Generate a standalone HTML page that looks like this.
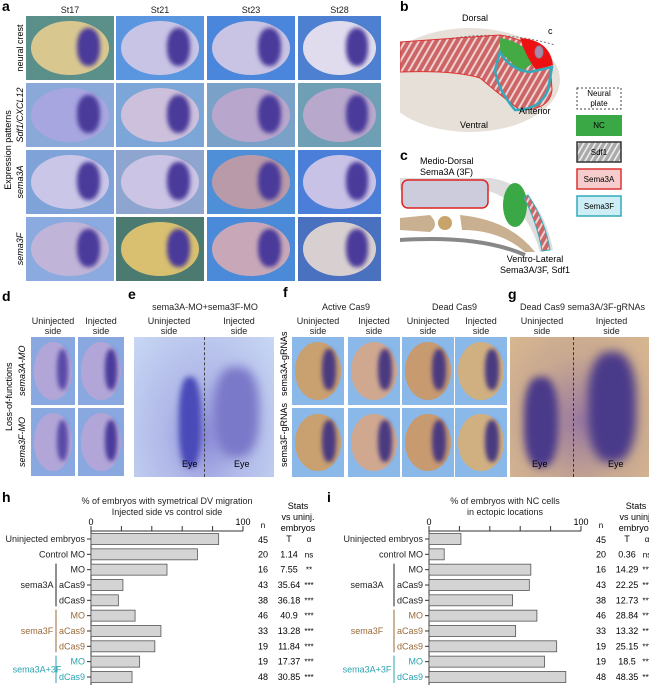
<!DOCTYPE html>
<html><head><meta charset="utf-8">
<style>
body{margin:0;background:#fff;font-family:"Liberation Sans",sans-serif;}
#root{position:relative;width:649px;height:685px;overflow:hidden;background:#fff;}
.abs{position:absolute;}
.tile{position:absolute;overflow:hidden;}
.lbl{position:absolute;font-size:9px;color:#222;text-align:center;line-height:10px;}
.pl{position:absolute;font-weight:bold;font-size:14px;color:#000;}
.vt{position:absolute;font-size:9px;transform:rotate(-90deg);transform-origin:center;white-space:nowrap;text-align:center;}
</style></head><body>
<div id="root">

<div class="pl" style="left:2px;top:-2px">a</div>
<div class="lbl" style="left:26px;top:5px;width:88px">St17</div>
<div class="lbl" style="left:116px;top:5px;width:88px">St21</div>
<div class="lbl" style="left:207px;top:5px;width:88px">St23</div>
<div class="lbl" style="left:298px;top:5px;width:83px">St28</div>
<div class="vt" style="left:-50px;top:145px;width:116px">Expression patterns</div>
<div class="vt" style="left:-12px;top:43px;width:64px">neural crest</div>
<div class="vt" style="left:-12px;top:110px;width:64px;font-style:italic">Sdf1/CXCL12</div>
<div class="vt" style="left:-12px;top:177px;width:64px;font-style:italic">sema3A</div>
<div class="vt" style="left:-12px;top:244px;width:64px;font-style:italic">sema3F</div>
<div id="tilesA"></div>

<svg class="abs" style="left:400px;top:0" width="249" height="280">
<defs><pattern id="hat" width="6" height="6" patternUnits="userSpaceOnUse" patternTransform="rotate(30)"><rect width="6" height="6" fill="#c66"/><rect width="2" height="6" fill="#f0d0d0"/></pattern>
<pattern id="hat2" width="5" height="5" patternUnits="userSpaceOnUse" patternTransform="rotate(30)"><rect width="5" height="5" fill="#aaa"/><rect width="1.6" height="5" fill="#eee"/></pattern></defs>
<text x="0" y="11" font-size="14" font-weight="bold">b</text>
<ellipse cx="70" cy="80" rx="90" ry="52" fill="#e6e0d8"/>
<path d="M-20,60 Q70,20 155,45" fill="none" stroke="#777" stroke-dasharray="2,2"/>
<path d="M0,42 L100,35 Q130,40 150,60 L152,90 Q150,110 120,110 Q100,95 80,78 Q55,70 0,72 Z" fill="url(#hat)" stroke="#d33"/>
<path d="M100,38 Q125,42 135,62 L120,72 Q108,58 100,52 Z" fill="#4a4"/>
<path d="M120,38 Q150,40 153,65 L136,70 Q125,55 120,38Z" fill="#e11"/>
<ellipse cx="139" cy="52" rx="4" ry="6" fill="#a8a" stroke="#889"/>
<path d="M100,52 Q110,70 130,72 L152,67 L148,90 Q140,110 115,110 Q98,90 95,70 Z" fill="none" stroke="#3ab" stroke-width="2.5"/>
<text x="62" y="21" font-size="9">Dorsal</text>
<text x="148" y="34" font-size="9">c</text>
<text x="119" y="114" font-size="9">Anterior</text>
<text x="60" y="128" font-size="9">Ventral</text>
<g>
<rect x="177" y="88" width="44" height="21" fill="#fff" stroke="#444" stroke-dasharray="2,2"/><text x="199" y="96" font-size="8" text-anchor="middle">Neural</text><text x="199" y="106" font-size="8" text-anchor="middle">plate</text>
<rect x="176" y="115" width="46" height="21" fill="#3aa845"/><text x="199" y="128" font-size="8" text-anchor="middle">NC</text>
<rect x="177" y="142" width="44" height="20" fill="url(#hat2)" stroke="#333" stroke-width="1.5"/><text x="199" y="155" font-size="8" text-anchor="middle">Sdf1</text>
<rect x="177" y="169" width="44" height="20" fill="#f6cccc" stroke="#d33" stroke-width="1.5"/><text x="199" y="182" font-size="8" text-anchor="middle">Sema3A</text>
<rect x="177" y="196" width="44" height="20" fill="#cdeef4" stroke="#3ab" stroke-width="1.5"/><text x="199" y="209" font-size="8" text-anchor="middle">Sema3F</text>
</g>
<text x="0" y="160" font-size="14" font-weight="bold">c</text>
<text x="20" y="164" font-size="9">Medio-Dorsal</text>
<text x="20" y="175" font-size="9">Sema3A (3F)</text>
<path d="M0,178 L90,178 Q140,185 153,250 L140,252 Q125,200 85,190 L0,190Z" fill="#ddd"/>
<rect x="2" y="180" width="86" height="28" rx="6" fill="#ccd" stroke="#d22" stroke-width="1.5"/>
<ellipse cx="115" cy="205" rx="12" ry="22" fill="#3aa845"/>
<path d="M0,218 L30,215 Q40,225 30,232 L0,230Z" fill="#c8b090"/><circle cx="45" cy="223" r="7" fill="#c9a46a"/>
<path d="M60,215 Q110,220 135,252 L125,252 Q100,230 62,230Z" fill="#c8b090"/>
<path d="M0,240 Q80,235 125,255" fill="none" stroke="#888" stroke-width="4"/>
<path d="M128,195 Q145,220 150,250 L142,251 Q137,222 124,198Z" fill="url(#hat)" stroke="#3ab"/>
<text x="135" y="262" font-size="9" text-anchor="middle">Ventro-Lateral</text>
<text x="135" y="273" font-size="9" text-anchor="middle">Sema3A/3F, Sdf1</text>
</svg>

<div class="pl" style="left:2px;top:288px">d</div>
<div class="pl" style="left:128px;top:286px">e</div>
<div class="pl" style="left:283px;top:284px">f</div>
<div class="pl" style="left:508px;top:286px">g</div>
<div class="lbl" style="left:145px;top:302px;width:120px">sema3A-MO+sema3F-MO</div>
<div class="lbl" style="left:292px;top:302px;width:108px">Active Cas9</div>
<div class="lbl" style="left:402px;top:302px;width:105px">Dead Cas9</div>
<div class="lbl" style="left:520px;top:302px;width:130px;text-align:left">Dead Cas9 sema3A/3F-gRNAs</div>
<div id="sidelbls"></div>
<div class="vt" style="left:-21px;top:396px;width:60px">Loss-of-functions</div>
<div class="vt" style="left:-3px;top:366px;width:50px;font-style:italic">sema3A-MO</div>
<div class="vt" style="left:-3px;top:437px;width:50px;font-style:italic">sema3F-MO</div>
<div class="vt" style="left:259px;top:366px;width:50px">sema3A-gRNAs</div>
<div class="vt" style="left:259px;top:437px;width:50px">sema3F-gRNAs</div>
<div id="tilesD"></div>

<svg class="abs" style="left:0;top:480px" width="649" height="205" id="charts"></svg>
</div>
<script>
// ----- chart data -----
const categories = ["Uninjected embryos","Control MO","MO","aCas9","dCas9","MO","aCas9","dCas9","MO","dCas9"];
const categoriesI = ["Uninjected embryos","control MO","MO","aCas9","dCas9","MO","aCas9","dCas9","MO","dCas9"];
const valuesH = [84,70,50,21,18,29,46,42,32,27];
const valuesI = [21,10,67,66,55,71,57,84,76,90];
const nValues = ["45","20","16","43","38","46","33","19","19","48"];
const tH = ["T","1.14","7.55","35.64","36.18","40.9","13.28","11.84","17.37","30.85"];
const aH = ["α","ns","**","***","***","***","***","***","***","***"];
const tI = ["T","0.36","14.29","22.25","12.73","28.84","13.32","25.15","18.5","48.35"];
const aI = ["α","ns","***","***","***","***","***","***","***","***"];
const tickValues = [0,20,40,60,80,100];
const tickLabels = ["0","","","","","100"];

const NS="http://www.w3.org/2000/svg";
const svg=document.getElementById('charts');
function mk(tag,at,txt){const e=document.createElementNS(NS,tag);for(const k in at)e.setAttribute(k,at[k]);if(txt!==undefined)e.textContent=txt;svg.appendChild(e);return e;}
const catColor=i=>i>=8?"#2aa4b0":(i>=5?"#9a6a3a":"#222");
function chart(ox,vals,cats,tt,aa,title1,title2,name,grpX,lblX){
  const x0=ox, x1=ox+152;
  const xs=v=>x0+(x1-x0)*v/100;
  const ys=i=>59+i*15.33;
  let t=mk('text',{x:(x0+x1)/2,y:24,'font-size':9,'text-anchor':'middle',fill:'#222'},title1);
  
  mk('text',{x:(x0+x1)/2,y:35,'font-size':9,'text-anchor':'middle',fill:'#222'},title2);
  const ax=mk('line',{x1:x0,x2:x1,y1:51,y2:51,stroke:'#333'});
  
  mk('line',{x1:x0,x2:x0,y1:51,y2:205,stroke:'#333'});
  tickValues.forEach((v,i)=>{mk('line',{x1:xs(v),x2:xs(v),y1:46,y2:51,stroke:'#333'});
    if(tickLabels[i]){const tl=mk('text',{x:xs(v),y:45,'font-size':9,'text-anchor':'middle'},tickLabels[i]);
    }});
  vals.forEach((v,i)=>{const y=ys(i);
    const b=mk('rect',{x:x0,y:y-5.5,width:xs(v)-x0,height:11,fill:'#d4d4d4',stroke:'#555','stroke-width':0.8});
    
    mk('line',{x1:x0-4,x2:x0,y1:y,y2:y,stroke:'#333'});
    mk('text',{x:x0-6,y:y+3,'font-size':9,'text-anchor':'end',fill:catColor(i)},cats[i]);
    mk('text',{x:x0+172,y:y+3+(i==0?1:0),'font-size':9,'text-anchor':'middle'},nValues[i]);
    mk('text',{x:x0+198,y:y+3,'font-size':9,'text-anchor':'middle'},tt[i]);
    mk('text',{x:x0+218,y:y+3,'font-size':8,'text-anchor':'middle'},aa[i]);
  });
  mk('text',{x:x0+172,y:48,'font-size':8,'text-anchor':'middle'},'n');
  mk('text',{x:x0+207,y:29,'font-size':9,'text-anchor':'middle'},'Stats');
  mk('text',{x:x0+207,y:40,'font-size':9,'text-anchor':'middle'},'vs uninj.');
  mk('text',{x:x0+207,y:51,'font-size':9,'text-anchor':'middle'},'embryos');
  [[2,4,'sema3A','#222'],[5,7,'sema3F','#9a6a3a'],[8,9,'sema3A+3F','#2aa4b0']].forEach(g=>{
    mk('line',{x1:grpX,x2:grpX,y1:ys(g[0])-6,y2:ys(g[1])+6,stroke:g[3]});
    const gl=mk('text',{x:lblX,y:(ys(g[0])+ys(g[1]))/2+3,'font-size':9,'text-anchor':'middle',fill:g[3]},g[2]);
    
  });
}
mk('text',{x:2,y:22,'font-size':14,'font-weight':'bold'},'h');
mk('text',{x:327,y:22,'font-size':14,'font-weight':'bold'},'i');
chart(91,valuesH,categories,tH,aH,'% of embryos with symetrical DV migration','Injected side vs control side','h',56,37);
chart(429,valuesI,categoriesI,tI,aI,'% of embryos with NC cells','in ectopic locations','i',394,367);

// ----- photo tiles (decorative) -----
function tile(parent,x,y,w,h,bg,emb,blob,name){
  const d=document.createElement('div');d.className='tile';
  
  
  d.style.cssText=`left:${x}px;top:${y}px;width:${w}px;height:${h}px;background:${bg}`;
  d.innerHTML=`<div style="position:absolute;left:6%;top:8%;width:88%;height:84%;border-radius:50%;background:${emb}"></div><div style="position:absolute;left:58%;top:18%;width:26%;height:60%;border-radius:45%;background:${blob};filter:blur(2px)"></div>`;
  document.getElementById(parent).appendChild(d);
}
const cx=[26,116,207,298],cw=[88,88,88,83],ry=[16,83,150,217];
const bgs=[["#5b8f8a","#5a95e0","#4a86dc","#4d80d0"],["#8aa9d8","#7da6d8","#7aa2c8","#6f9fb5"],["#7fa3d8","#8ea6cf","#4f8fd8","#4a7ed8"],["#8aaae0","#4a7a70","#4a8ad8","#4a70c0"]];
const embs=[["#d8c890","#c8c4e6","#c9c4e4","#e0dcee"],["#a8a6e0","#cdc0dc","#b8a6cc","#b8a8cc"],["#c9c6e8","#cbc4e4","#b89aa8","#c8c2e6"],["#c0b4d8","#d8c070","#c8a8b8","#d8d0d0"]];
for(let r=0;r<4;r++)for(let c=0;c<4;c++)tile('tilesA',cx[c],ry[r],cw[c],64,bgs[r][c],embs[r][c],'#4a3a9a','tile-a-'+r+'-'+c);
// d
tile('tilesD',31,337,44,68,'#8aa8e0','#b2a6d8','#5a4aa8','tile-d-1');
tile('tilesD',78,337,46,68,'#8aa8e0','#b2a6d8','#4a3a9a','tile-d-2');
tile('tilesD',31,408,44,68,'#8aa8e0','#b2a6d8','#5a4aa8','tile-d-3');
tile('tilesD',78,408,46,68,'#8aa8e0','#b2a6d8','#4a3a9a','tile-d-4');
const e=document.createElement('div');e.className='tile';


e.style.cssText='left:134px;top:337px;width:140px;height:140px;background:radial-gradient(ellipse at 50% 70%,#8a8ad8 0%,#b0b8e8 40%,#c8d8f4 100%)';
e.innerHTML='<div style="position:absolute;left:70px;top:0;height:140px;border-left:1px dashed #444"></div><div style="position:absolute;left:45px;top:40px;width:22px;height:90px;border-radius:40%;background:#4a4ab8;filter:blur(3px)"></div><div style="position:absolute;left:80px;top:30px;width:45px;height:90px;border-radius:40%;background:#7a78c8;filter:blur(5px)"></div><span style="position:absolute;left:48px;top:122px;font-size:9px">Eye</span><span style="position:absolute;left:100px;top:122px;font-size:9px">Eye</span>';
document.getElementById('tilesD').appendChild(e);
const fx=[292,348,402,455];const fbg=["#c9a070","#d0a890","#c89a70","#d0b080"];
for(let r=0;r<2;r++)for(let c=0;c<4;c++)tile('tilesD',fx[c],r?408:337,52,r?69:68,'#8ab8e8',fbg[c],'#4a3a80','tile-f-'+r+'-'+c);
const g=document.createElement('div');g.className='tile';


g.style.cssText='left:510px;top:337px;width:139px;height:140px;background:radial-gradient(ellipse at 50% 60%,#9a7aa0 0%,#c8a890 55%,#d8b890 100%)';
g.innerHTML='<div style="position:absolute;left:63px;top:0;height:140px;border-left:1px dashed #333"></div><div style="position:absolute;left:14px;top:40px;width:34px;height:90px;border-radius:40%;background:#4a3a8a;filter:blur(4px)"></div><div style="position:absolute;left:78px;top:15px;width:48px;height:110px;border-radius:40%;background:#4a3a8a;filter:blur(5px)"></div><span style="position:absolute;left:22px;top:122px;font-size:9px">Eye</span><span style="position:absolute;left:98px;top:122px;font-size:9px">Eye</span>';
document.getElementById('tilesD').appendChild(g);
// side labels
const sl=[[31,44,'Uninjected'],[78,46,'Injected'],[134,70,'Uninjected'],[204,70,'Injected'],[292,52,'Uninjected'],[348,52,'Injected'],[402,52,'Uninjected'],[455,52,'Injected'],[510,64,'Uninjected'],[574,75,'Injected']];
sl.forEach(s=>{const d=document.createElement('div');d.className='lbl';


d.style.cssText=`left:${s[0]}px;top:316px;width:${s[1]}px`;d.innerHTML=s[2]+'<br>side';document.getElementById('sidelbls').appendChild(d);});
</script>
</body></html>
